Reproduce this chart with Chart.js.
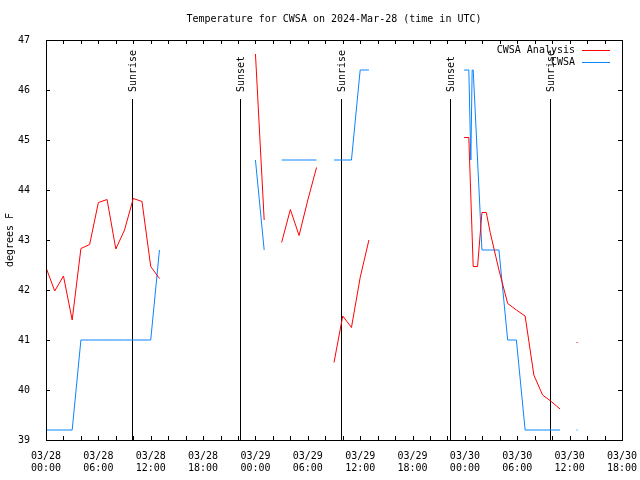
<!DOCTYPE html>
<html>
<head>
<meta charset="utf-8">
<script src="https://cdn.jsdelivr.net/npm/chart.js@4/dist/chart.umd.min.js"></script>
<style>
html,body{margin:0;padding:0;background:#fff;}
#wrap{width:640px;height:480px;position:relative;}
</style>
</head>
<body>
<div id="wrap"><canvas id="c" width="640" height="480"></canvas></div>
<script>
// ---------- data ----------
const TITLE = 'Temperature for CWSA on 2024-Mar-28 (time in UTC)';
const Y_TITLE = 'degrees F';

// x axis: hours since 2024-03-28 00:00 UTC
const TICK_HOURS = [0, 6, 12, 18, 24, 30, 36, 42, 48, 54, 60, 66];
const TICK_DATES = ['03/28','03/28','03/28','03/28','03/29','03/29','03/29','03/29','03/30','03/30','03/30','03/30'];
const TICK_TIMES = ['00:00','06:00','12:00','18:00','00:00','06:00','12:00','18:00','00:00','06:00','12:00','18:00'];

const SUN_HOURS  = [9.83, 22.25, 33.78, 46.31, 57.73];
const SUN_LABELS = ['Sunrise', 'Sunset', 'Sunrise', 'Sunset', 'Sunrise'];

const SERIES_NAMES  = ['CWSA Analysis', 'CWSA'];
const SERIES_COLORS = ['#ff0000', '#0a84ff'];

const ANALYSIS_HOURS = [0,1,2,3,4,5,6,7,8,9,10,11,12,13,14,
  24,25,26,
  27,28,29,30,31,32,
  33,34,35,36,37,38,
  47.9,48.45,48.95,49.45,49.95,50.45,50.9,51.9,52.9,53.9,54.9,55.9,56.9,57.9,58.9,59.9,
  60.85];
const ANALYSIS_TEMPS = [42.45,41.98,42.28,41.40,42.83,42.91,43.75,43.81,42.82,43.20,43.83,43.77,42.47,42.23,null,
  46.72,43.40,null,
  42.95,43.61,43.09,43.80,44.45,null,
  40.55,41.48,41.25,42.25,43.00,null,
  45.05,45.05,42.47,42.47,43.55,43.55,43.15,42.40,41.73,41.60,41.48,40.30,39.90,39.77,39.62,null,
  40.95];

const OBS_HOURS = [0,1,2,3,4,5,6,7,8,9,10,11,12,13,14,
  24,25,26,
  27,28,29,30,31,32,
  33,34,35,36,37,38,
  47.9,48.45,48.68,48.83,48.95,49.95,50.9,51.9,52.9,53.9,54.9,55.9,56.9,57.9,58.9,59.9,
  60.85];
const OBS_TEMPS = [39.2,39.2,39.2,39.2,41.0,41.0,41.0,41.0,41.0,41.0,41.0,41.0,41.0,42.8,null,
  44.6,42.8,null,
  44.6,44.6,44.6,44.6,44.6,null,
  44.6,44.6,44.6,46.4,46.4,null,
  46.4,46.4,44.6,46.4,46.4,42.8,42.8,42.8,41.0,41.0,39.2,39.2,39.2,39.2,39.2,null,
  39.2];

// ---------- chart ----------
const FONT = '10px "DejaVu Sans Mono", monospace';

function toPoints(xs, ys) { return xs.map((h, i) => ({ x: h, y: ys[i] })); }

function isolatedRadius(ctx) {
  const d = ctx.dataset.data, i = ctx.dataIndex;
  if (!d[i] || d[i].y == null) return 0;
  const p = d[i - 1], n = d[i + 1];
  const iso = (!p || p.y == null) && (!n || n.y == null);
  return iso ? 0.75 : 0;
}

const gnuplotLook = {
  id: 'gnuplotLook',
  beforeDatasetsDraw(chart) {
    const { ctx, chartArea: a, scales: { x } } = chart;
    ctx.save();
    ctx.strokeStyle = '#000';
    ctx.fillStyle = '#000';
    ctx.lineWidth = 1;
    ctx.font = FONT;
    SUN_HOURS.forEach((h, i) => {
      const px = Math.round(x.getPixelForValue(h)) + 0.5;
      ctx.beginPath();
      ctx.moveTo(px, a.top + 59);
      ctx.lineTo(px, a.bottom);
      ctx.stroke();
      ctx.save();
      ctx.translate(px + 0.5, a.top + 52);
      ctx.rotate(-Math.PI / 2);
      ctx.textAlign = 'left';
      ctx.textBaseline = 'middle';
      ctx.fillText(SUN_LABELS[i], 0, 0);
      ctx.restore();
    });
    ctx.restore();
  },
  afterDraw(chart) {
    const { ctx, chartArea: a, scales: { x, y } } = chart;
    ctx.save();
    ctx.strokeStyle = '#000';
    ctx.fillStyle = '#000';
    ctx.lineWidth = 1;
    // border
    ctx.strokeRect(a.left + 0.5, a.top + 0.5, a.right - a.left, a.bottom - a.top);
    // x ticks every 2 hours, top and bottom, inward
    ctx.beginPath();
    for (let h = x.min; h <= x.max; h += 2) {
      const px = Math.round(x.getPixelForValue(h)) + 0.5;
      ctx.moveTo(px, a.bottom); ctx.lineTo(px, a.bottom - 4);
      ctx.moveTo(px, a.top); ctx.lineTo(px, a.top + 4);
    }
    // y ticks every degree, left and right, inward
    for (let v = y.min; v <= y.max; v += 1) {
      const py = Math.round(y.getPixelForValue(v)) + 0.5;
      ctx.moveTo(a.left, py); ctx.lineTo(a.left + 4, py);
      ctx.moveTo(a.right, py); ctx.lineTo(a.right - 4, py);
    }
    ctx.stroke();

    ctx.font = FONT;
    // title
    ctx.textAlign = 'center';
    ctx.textBaseline = 'middle';
    ctx.fillText(TITLE, (a.left + a.right) / 2, 19);
    // y title
    ctx.save();
    ctx.translate(10, (a.top + a.bottom) / 2);
    ctx.rotate(-Math.PI / 2);
    ctx.fillText(Y_TITLE, 0, 0);
    ctx.restore();
    // legend
    chart.data.datasets.forEach((ds, i) => {
      const ly = a.top + 10 + i * 12;
      ctx.fillStyle = '#000';
      ctx.textAlign = 'right';
      ctx.fillText(ds.label, a.right - 47, ly);
      ctx.strokeStyle = ds.borderColor;
      ctx.beginPath();
      ctx.moveTo(a.right - 40, Math.round(ly) + 0.5);
      ctx.lineTo(a.right - 12, Math.round(ly) + 0.5);
      ctx.stroke();
    });
    ctx.restore();
  }
};

new Chart(document.getElementById('c'), {
  type: 'line',
  data: {
    datasets: [
      {
        label: SERIES_NAMES[0],
        data: toPoints(ANALYSIS_HOURS, ANALYSIS_TEMPS),
        borderColor: SERIES_COLORS[0],
        backgroundColor: SERIES_COLORS[0],
        borderWidth: 1,
        pointRadius: isolatedRadius,
        pointStyle: 'rect',
        pointBorderWidth: 0,
        pointHoverRadius: 0,
        spanGaps: false,
        tension: 0,
        fill: false
      },
      {
        label: SERIES_NAMES[1],
        data: toPoints(OBS_HOURS, OBS_TEMPS),
        borderColor: SERIES_COLORS[1],
        backgroundColor: SERIES_COLORS[1],
        borderWidth: 1,
        pointRadius: isolatedRadius,
        pointStyle: 'rect',
        pointBorderWidth: 0,
        pointHoverRadius: 0,
        spanGaps: false,
        tension: 0,
        fill: false
      }
    ]
  },
  options: {
    responsive: false,
    animation: false,
    devicePixelRatio: 1,
    events: [],
    layout: { padding: { top: 40, right: 18, bottom: 0, left: 0 } },
    plugins: { legend: { display: false }, title: { display: false }, tooltip: { enabled: false } },
    scales: {
      x: {
        type: 'linear',
        min: 0,
        max: 66,
        grid: { display: false },
        border: { display: false },
        ticks: {
          stepSize: 6,
          autoSkip: false,
          maxRotation: 0,
          padding: 2,
          color: '#000',
          font: { family: '"DejaVu Sans Mono", monospace', size: 10 },
          callback: (v) => {
            const i = TICK_HOURS.indexOf(v);
            return i < 0 ? '' : [TICK_DATES[i], TICK_TIMES[i]];
          }
        },
        afterFit: (s) => { s.height = 40; s.paddingLeft = 0; s.paddingRight = 0; }
      },
      y: {
        min: 39,
        max: 47,
        grid: { display: false },
        border: { display: false },
        ticks: {
          stepSize: 1,
          padding: 8,
          color: '#000',
          font: { family: '"DejaVu Sans Mono", monospace', size: 10 }
        },
        afterFit: (s) => { s.width = 46; s.paddingTop = 0; s.paddingBottom = 0; }
      }
    }
  },
  plugins: [gnuplotLook]
});
</script>
</body>
</html>
